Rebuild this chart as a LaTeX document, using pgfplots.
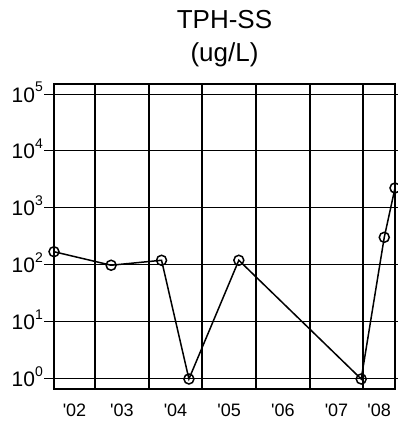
\documentclass[border=0pt]{standalone}
\usepackage{fontspec}
\setmainfont{Liberation Sans}
\usepackage{pgfplots}
\pgfplotsset{compat=1.18}
\newcommand{\pw}[1]{10\raisebox{10.6bp}{\fontsize{14bp}{14bp}\selectfont #1}}
\newcommand{\yr}[1]{\textquotesingle#1}
\begin{document}
\begin{tikzpicture}
\useasboundingbox (-54bp,-36bp) rectangle (344bp,389bp);
\begin{axis}[
 at={(0,0)}, anchor=south west, scale only axis, width=341bp, height=305bp,
 ymode=log, xmin=2002.236, xmax=2008.59, ymin=0.6675, ymax=149800,
 axis line style={line width=1.6bp},
 ytick={1,10,100,1000,10000,100000},
 yticklabels={\pw{0},\pw{1},\pw{2},\pw{3},\pw{4},\pw{5}},
 yminorticks=false,
 yticklabel style={font=\fontsize{21bp}{21bp}\selectfont, anchor=base east, inner sep=0pt, xshift=-1bp, yshift=-8bp},
 ymajorgrids, major grid style={black},
 x grid style={black, line width=1.7bp},
 y grid style={black, line width=1bp},
 tick align=outside, major tick length=10bp, tick style={black, line width=1bp},
 xtick={2002.618,2003.5,2004.5,2005.5,2006.5,2007.5,2008.295},
 xticklabels={\yr{02},\yr{03},\yr{04},\yr{05},\yr{06},\yr{07},\yr{08}},
 xticklabel style={font=\fontsize{18bp}{18bp}\selectfont, anchor=base, inner sep=0pt, yshift=-17.5bp},
 xtick style={draw=none},
 extra x ticks={2003,2004,2005,2006,2007,2008},
 extra x tick labels={},
 extra x tick style={grid=major, tick style={draw=none}},
 clip=false,
]
\addplot[black, line width=1.5bp, mark=o, mark size=5bp, mark options={line width=1.5bp}] coordinates {
(2002.236,171) (2003.30,99) (2004.24,121) (2004.75,1) (2005.68,121) (2007.96,1) (2008.39,306) (2008.59,2244)
};
\end{axis}
\node[font=\fontsize{26bp}{26bp}\selectfont, anchor=base, inner sep=0pt] at (170.5bp,360bp) {TPH-SS};
\node[font=\fontsize{26bp}{26bp}\selectfont, anchor=base, inner sep=0pt] at (170.5bp,327bp) {(ug/L)};
\end{tikzpicture}
\end{document}
